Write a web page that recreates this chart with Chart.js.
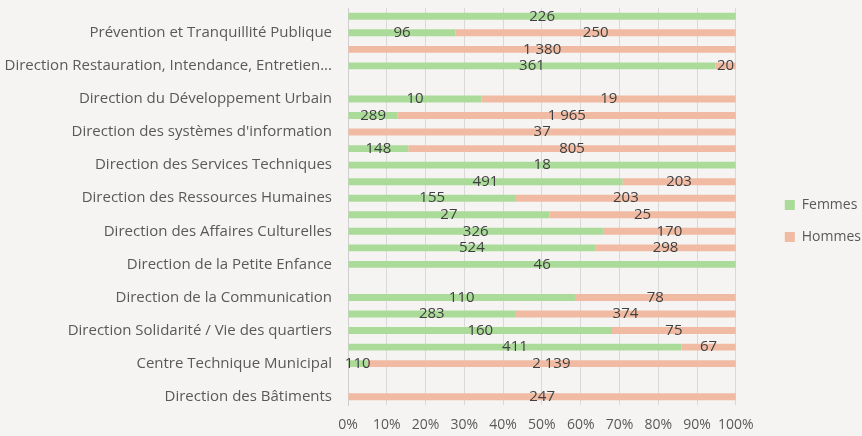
<!DOCTYPE html>
<html lang="fr">
    <head>
        <meta charset="UTF-8">
        <title>Répartition Femmes / Hommes par direction</title>
        <script src="https://cdn.jsdelivr.net/npm/chart.js"></script>
        <style>
            body {
                margin: 0;
                background: #f5f4f2;
            }
            #wrap {
                width: 862px;
                height: 436px;
            }
        </style>
    </head>
    <body>
        <div id="wrap"><canvas id="chart"></canvas></div>
        <script>
            // categories, from top to bottom (only every other name is shown)
            const categories = [
                "", "Prévention et Tranquillité Publique",
                "", "Direction Restauration, Intendance, Entretien...",
                "", "Direction du Développement Urbain",
                "", "Direction des systèmes d'information",
                "", "Direction des Services Techniques",
                "", "Direction des Ressources Humaines",
                "", "Direction des Affaires Culturelles",
                "", "Direction de la Petite Enfance",
                "", "Direction de la Communication",
                "", "Direction Solidarité / Vie des quartiers",
                "", "Centre Technique Municipal",
                "", "Direction des Bâtiments"
            ];
            const femmes = [226, 96, 0, 361, null, 10, 289, 0, 148, 18, 491, 155, 27, 326, 524, 46, null, 110, 283, 160, 411, 110, null, 0];
            const hommes = [0, 250, 1380, 20, null, 19, 1965, 37, 805, 0, 203, 203, 25, 170, 298, 0, null, 78, 374, 75, 67, 2139, null, 247];
            const xTicks = [0, 10, 20, 30, 40, 50, 60, 70, 80, 90, 100];

            function share(values, i) {
                const total = (femmes[i] || 0) + (hommes[i] || 0);
                if (values[i] === null || total === 0) return null;
                return values[i] / total * 100;
            }

            function formatNb(v) {
                return String(v).replace(/\B(?=(\d{3})+(?!\d))/g, ' ');
            }

            const raw = [femmes, hommes];

            // value labels in the middle of each segment
            const valueLabels = {
                id: 'valueLabels',
                afterDatasetsDraw(chart) {
                    const ctx = chart.ctx;
                    ctx.save();
                    ctx.font = '15px "Open Sans"';
                    ctx.fillStyle = '#404040';
                    ctx.textAlign = 'center';
                    ctx.textBaseline = 'middle';
                    chart.data.datasets.forEach((ds, di) => {
                        chart.getDatasetMeta(di).data.forEach((bar, i) => {
                            const v = raw[di][i];
                            if (!v) return;
                            const p = bar.getCenterPoint();
                            ctx.fillText(formatNb(v), p.x, p.y);
                        });
                    });
                    ctx.restore();
                }
            };

            // move the legend a bit away from the plot
            const legendShift = {
                id: 'legendShift',
                afterLayout(chart) {
                    chart.legend.left += 31;
                    chart.legend.right += 31;
                }
            };

            new Chart(document.getElementById('chart'), {
                type: 'bar',
                data: {
                    labels: categories,
                    datasets: [{
                        label: 'Femmes',
                        data: femmes.map((v, i) => share(femmes, i)),
                        backgroundColor: '#abdb99'
                    }, {
                        label: 'Hommes',
                        data: hommes.map((v, i) => share(hommes, i)),
                        backgroundColor: '#f0bba2'
                    }]
                },
                options: {
                    indexAxis: 'y',
                    responsive: true,
                    maintainAspectRatio: false,
                    animation: false,
                    categoryPercentage: 1,
                    barPercentage: 0.42,
                    layout: {
                        padding: { top: 8, right: 22, bottom: 2, left: 0 }
                    },
                    plugins: {
                        tooltip: { enabled: false },
                        legend: {
                            position: 'right',
                            labels: {
                                boxWidth: 10,
                                boxHeight: 10,
                                padding: 18,
                                color: '#595959',
                                font: { family: 'Open Sans', size: 14 }
                            }
                        }
                    },
                    scales: {
                        x: {
                            stacked: true,
                            min: 0,
                            max: 100,
                            afterBuildTicks(scale) {
                                scale.ticks = xTicks.map(v => ({ value: v }));
                            },
                            afterFit(scale) {
                                scale.height = 29;
                            },
                            grid: { color: '#d9d9d9', drawTicks: false },
                            border: { display: false },
                            ticks: {
                                padding: 12,
                                maxRotation: 0,
                                minRotation: 0,
                                color: '#595959',
                                font: { family: 'Open Sans', size: 14 },
                                callback: v => v + '%'
                            }
                        },
                        y: {
                            stacked: true,
                            grid: { display: false, drawTicks: false },
                            border: { color: '#cfcfcf' },
                            afterFit(scale) {
                                scale.width = 348;
                                scale.paddingTop = 0;
                                scale.paddingBottom = 0;
                            },
                            ticks: {
                                autoSkip: false,
                                padding: 16,
                                color: '#595959',
                                font: { family: 'Open Sans', size: 15 }
                            }
                        }
                    }
                },
                plugins: [valueLabels, legendShift]
            });
        </script>
    </body>
</html>
